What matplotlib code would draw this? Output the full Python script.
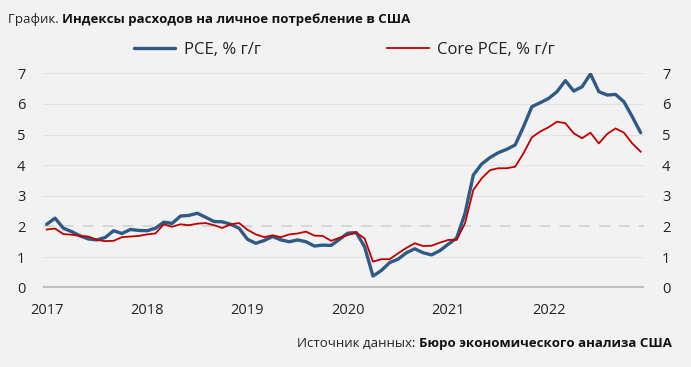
import numpy as np
import matplotlib.pyplot as plt

plt.rcParams['font.family'] = ['Open Sans', 'DejaVu Sans']

# monthly, Jan 2017 .. Dec 2022
pce = [2.07, 2.27, 1.94, 1.83, 1.69, 1.59, 1.56, 1.64, 1.86, 1.77, 1.90, 1.87,
       1.86, 1.94, 2.14, 2.10, 2.34, 2.36, 2.43, 2.30, 2.16, 2.15, 2.07, 1.94,
       1.58, 1.45, 1.54, 1.67, 1.56, 1.50, 1.56, 1.50, 1.36, 1.39, 1.38, 1.58,
       1.78, 1.80, 1.34, 0.38, 0.56, 0.82, 0.93, 1.14, 1.27, 1.14, 1.07, 1.21,
       1.42, 1.62, 2.42, 3.68, 4.04, 4.25, 4.41, 4.52, 4.66, 5.26, 5.91, 6.04,
       6.18, 6.40, 6.76, 6.42, 6.56, 6.98, 6.40, 6.29, 6.31, 6.07, 5.58, 5.06]
core_pce = [1.90, 1.93, 1.75, 1.73, 1.69, 1.67, 1.56, 1.52, 1.53, 1.65, 1.67, 1.69,
            1.74, 1.77, 2.07, 1.99, 2.07, 2.04, 2.09, 2.11, 2.04, 1.95, 2.07, 2.11,
            1.89, 1.74, 1.65, 1.71, 1.65, 1.74, 1.77, 1.83, 1.70, 1.69, 1.53, 1.63,
            1.72, 1.80, 1.61, 0.85, 0.93, 0.93, 1.12, 1.30, 1.45, 1.36, 1.37, 1.47,
            1.56, 1.56, 2.10, 3.19, 3.57, 3.84, 3.90, 3.90, 3.95, 4.39, 4.91, 5.10,
            5.24, 5.42, 5.37, 5.04, 4.88, 5.06, 4.71, 5.02, 5.20, 5.06, 4.71, 4.44]
years = ['2017', '2018', '2019', '2020', '2021', '2022']

bg = '#F2F2F2'
blue = '#2F5A86'
red = '#C00000'

fig = plt.figure(figsize=(6.91, 3.67), dpi=100, facecolor=bg)
ax = fig.add_axes([0.0627, 0.2161, 0.8693, 0.5842], facecolor=bg)

x = np.arange(len(pce))
for v in range(1, 8):
    if v == 2:
        ax.axhline(v, color='#D4D4D4', lw=1.3, ls=(0, (6, 5)), zorder=1)
    else:
        ax.axhline(v, color='#E2E2E2', lw=0.8, zorder=1)
ax.axhline(0, color='#BFBFBF', lw=3, zorder=1)

ax.plot(x, pce, color=blue, lw=2.4, solid_joinstyle='round', solid_capstyle='round', zorder=3, label='PCE, % г/г')
ax.plot(x, core_pce, color=red, lw=1.3, solid_joinstyle='round', zorder=4, label='Core PCE, % г/г')

ax.set_xlim(-0.4, 71.4)
ax.set_ylim(0, 7)
ax.set_xticks(np.arange(0, 72, 12))
ax.set_xticklabels(years)
ax.set_yticks(range(0, 8))
ax.tick_params(axis='both', length=0, labelsize=10.5, colors='#222222')
ax.tick_params(axis='x', pad=11)
ax.tick_params(axis='y', pad=13, labelright=True, labelleft=True)
for s in ax.spines.values():
    s.set_visible(False)

fig.legend(loc='center', bbox_to_anchor=(0.4985, 0.864), ncol=2, frameon=False,
           fontsize=12, handlelength=2.5, handletextpad=0.5, columnspacing=7.6,
           labelcolor='#222222')

t = fig.text(8 / 691, 1 - 19 / 367, 'График. ', fontsize=9.5, va='center', color='#222222')
ax.annotate('Индексы расходов на личное потребление в США', xy=(1, 0.5), xycoords=t,
            va='center', fontsize=9.5, fontweight='bold', color='#111111')

s = fig.text(672 / 691, 1 - 343 / 367, 'Бюро экономического анализа США', fontsize=9.5,
             fontweight='bold', ha='right', va='center', color='#111111')
ax.annotate('Источник данных: ', xy=(0, 0.5), xycoords=s, ha='right', va='center',
            fontsize=9.5, color='#222222')

fig.savefig('out.png', dpi=100, facecolor=bg)
